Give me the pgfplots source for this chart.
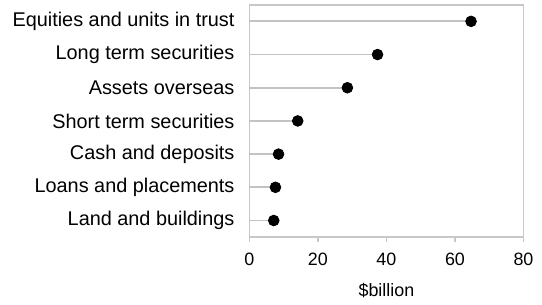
\documentclass[border={3pt 0pt 1pt 2pt}]{standalone}
\usepackage{pgfplots}
\pgfplotsset{compat=1.18}
\usepackage{fontspec}
\setmainfont{Liberation Sans}
\definecolor{framegray}{RGB}{200,200,200}
\definecolor{stemgray}{RGB}{195,195,195}
\begin{document}
\begin{tikzpicture}
\begin{axis}[
  scale only axis, width=138pt, height=117pt,
  xmin=0, xmax=80, ymin=-0.5, ymax=6.5,
  xtick={0,20,40,60,80},
  ytick={0,...,6},
  xtick pos=bottom, ytick pos=left,
  yticklabels={Land and buildings, Loans and placements, Cash and deposits, Short term securities, Assets overseas, Long term securities, Equities and units in trust},
  axis line style={framegray, line width=0.8pt},
  tick style={framegray, line width=0.8pt},
  xtick align=outside, ytick align=inside,
  major tick length=2.5pt,
  yticklabel style={font=\fontsize{10}{12}\selectfont, xshift=-4pt},
  xticklabel style={font=\fontsize{9}{11}\selectfont, yshift=-2pt},
  /pgf/number format/assume math mode=true,
  xlabel={\$billion},
  xlabel style={font=\fontsize{9}{11}\selectfont, yshift=-2pt},
  clip=false,
]
\addplot[xcomb, stemgray, line width=0.9pt] coordinates {
  (7.1,0) (7.6,1) (8.5,2) (14.1,3) (28.6,4) (37.4,5) (64.7,6)
};
\addplot[only marks, mark=*, mark size=2.7pt, black] coordinates {
  (7.1,0) (7.6,1) (8.5,2) (14.1,3) (28.6,4) (37.4,5) (64.7,6)
};
\end{axis}
\end{tikzpicture}
\end{document}
